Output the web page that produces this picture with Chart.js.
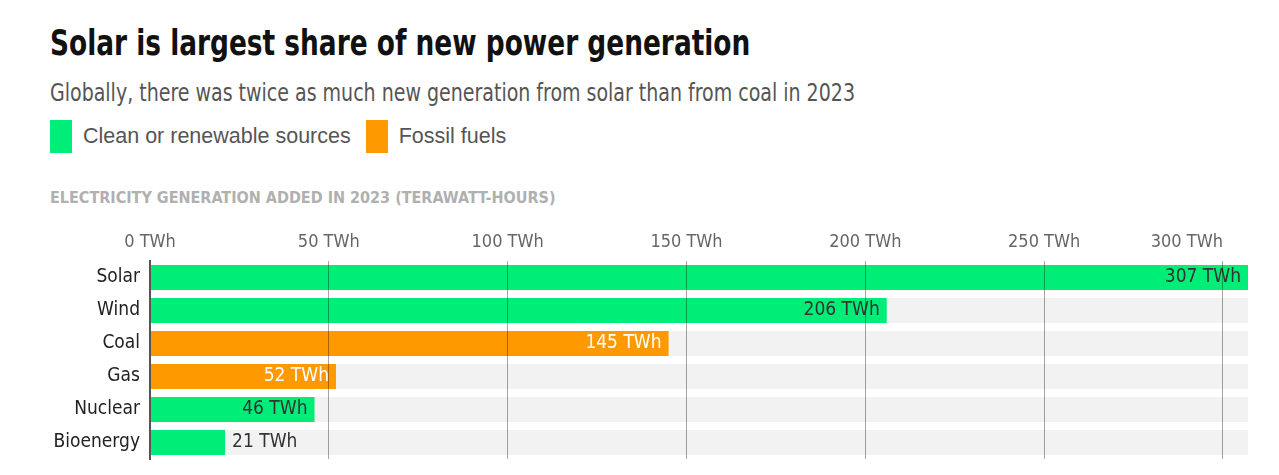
<!DOCTYPE html>
<html>
<head>
<meta charset="utf-8">
<script src="https://cdn.jsdelivr.net/npm/chart.js@4/dist/chart.umd.min.js"></script>
<style>
  body { margin: 0; background: #fff; width: 1279px; height: 475px; overflow: hidden; position: relative; }
  .narrow { font-family: "DejaVu Sans Condensed", sans-serif; transform-origin: 0 0; }
  #title { position: absolute; left: 50px; top: 22px; margin: 0; font-size: 36px; font-weight: bold; color: #111; white-space: nowrap; transform: scaleX(0.815); }
  #sub { position: absolute; left: 50px; top: 79px; font-size: 24px; color: #555; white-space: nowrap; transform: scaleX(0.88); }
  #legend { position: absolute; left: 50px; top: 120px; height: 33px; font-family: "Liberation Sans", sans-serif; font-size: 21.5px; color: #555; white-space: nowrap; }
  #legend span.sw { display: inline-block; width: 22px; height: 33px; vertical-align: middle; margin-right: 11px; }
  #legend span.lb { vertical-align: middle; margin-right: 15px; }
  #axisTitle { position: absolute; left: 50px; top: 188px; font-size: 16px; font-weight: bold; color: #b0b0b0; white-space: nowrap; }
  #chart { position: absolute; left: 0; top: 215px; }
</style>
</head>
<body>
<h1 id="title" class="narrow">Solar is largest share of new power generation</h1>
<div id="sub" class="narrow">Globally, there was twice as much new generation from solar than from coal in 2023</div>
<div id="legend"></div>
<div id="axisTitle" class="narrow">ELECTRICITY GENERATION ADDED IN 2023 (TERAWATT-HOURS)</div>
<canvas id="chart" width="1279" height="260"></canvas>
<script>
let categories = ["Solar", "Wind", "Coal", "Gas", "Nuclear", "Bioenergy"];
let values = [307, 206, 145, 52, 46, 21];
let groups = ["clean", "clean", "fossil", "fossil", "clean", "clean"];
let xTicks = [0, 50, 100, 150, 200, 250, 300];
let xMax = 307;
let unit = " TWh";

let groupNames = { clean: "Clean or renewable sources", fossil: "Fossil fuels" };
let groupColors = { clean: "#00ee78", fossil: "#ff9900" };
let labelColors = { clean: "#333333", fossil: "#ffffff" };
let narrow = '"DejaVu Sans Condensed", sans-serif';

// legend boxes
let legend = document.getElementById("legend");
for (let key in groupNames)
{
    let sw = document.createElement("span");
    sw.className = "sw";
    sw.style.background = groupColors[key];
    let lb = document.createElement("span");
    lb.className = "lb";
    lb.textContent = groupNames[key];
    legend.appendChild(sw);
    legend.appendChild(lb);
}

// tick labels on top, last one pulled to the left of its line
let topTicks = {
    id: "topTicks",
    afterDraw(chart) {
        let ctx = chart.ctx, sx = chart.scales.x;
        ctx.save();
        ctx.font = "18px " + narrow;
        ctx.fillStyle = "#666";
        ctx.textBaseline = "middle";
        for (let i = 0; i < xTicks.length; i++)
        {
            let px = sx.getPixelForValue(xTicks[i]);
            ctx.textAlign = i == xTicks.length - 1 ? "right" : "center";
            ctx.fillText(xTicks[i] + unit, px, chart.chartArea.top - 19);
        }
        ctx.restore();
    }
};

// value labels at the end of each bar
let barLabels = {
    id: "barLabels",
    afterDatasetsDraw(chart) {
        let ctx = chart.ctx;
        let meta = chart.getDatasetMeta(0);
        ctx.save();
        ctx.font = "19px " + narrow;
        ctx.textBaseline = "middle";
        meta.data.forEach(function(bar, i) {
            let text = values[i] + unit;
            let w = ctx.measureText(text).width;
            let len = bar.x - bar.base;
            if (len > w + 14)
            {
                ctx.textAlign = "right";
                ctx.fillStyle = labelColors[groups[i]];
                ctx.fillText(text, bar.x - 7, bar.y);
            }
            else
            {
                ctx.textAlign = "left";
                ctx.fillStyle = "#333";
                ctx.fillText(text, bar.x + 7, bar.y);
            }
        });
        ctx.restore();
    }
};

new Chart(document.getElementById("chart"), {
    type: "bar",
    data: {
        labels: categories,
        datasets: [
            {
                data: values,
                backgroundColor: groups.map(g => groupColors[g]),
                barPercentage: 0.76,
                categoryPercentage: 1,
                grouped: false,
                order: 0
            },
            {
                data: categories.map(() => xMax),
                backgroundColor: "#f2f2f2",
                barPercentage: 0.76,
                categoryPercentage: 1,
                grouped: false,
                order: 1
            }
        ]
    },
    options: {
        indexAxis: "y",
        responsive: false,
        animation: false,
        layout: { padding: { top: 0, right: 31, bottom: 16, left: 0 } },
        plugins: { legend: { display: false }, tooltip: { enabled: false } },
        scales: {
            x: {
                position: "top",
                min: 0,
                max: xMax,
                afterBuildTicks: s => { s.ticks = xTicks.map(v => ({ value: v })); },
                afterFit: s => { s.height = 46; },
                ticks: { display: false },
                grid: { color: "rgba(0,0,0,0.35)", lineWidth: 1, drawTicks: false, z: 1 },
                border: { display: false }
            },
            y: {
                afterFit: s => { s.width = 150; s.paddingTop = 0; s.paddingBottom = 0; },
                ticks: { color: "#222", font: { family: narrow, size: 19 }, padding: 10 },
                grid: { display: false, drawTicks: false },
                border: { display: true, color: "#555", width: 2, z: 1 }
            }
        }
    },
    plugins: [topTicks, barLabels]
});
</script>
</body>
</html>
